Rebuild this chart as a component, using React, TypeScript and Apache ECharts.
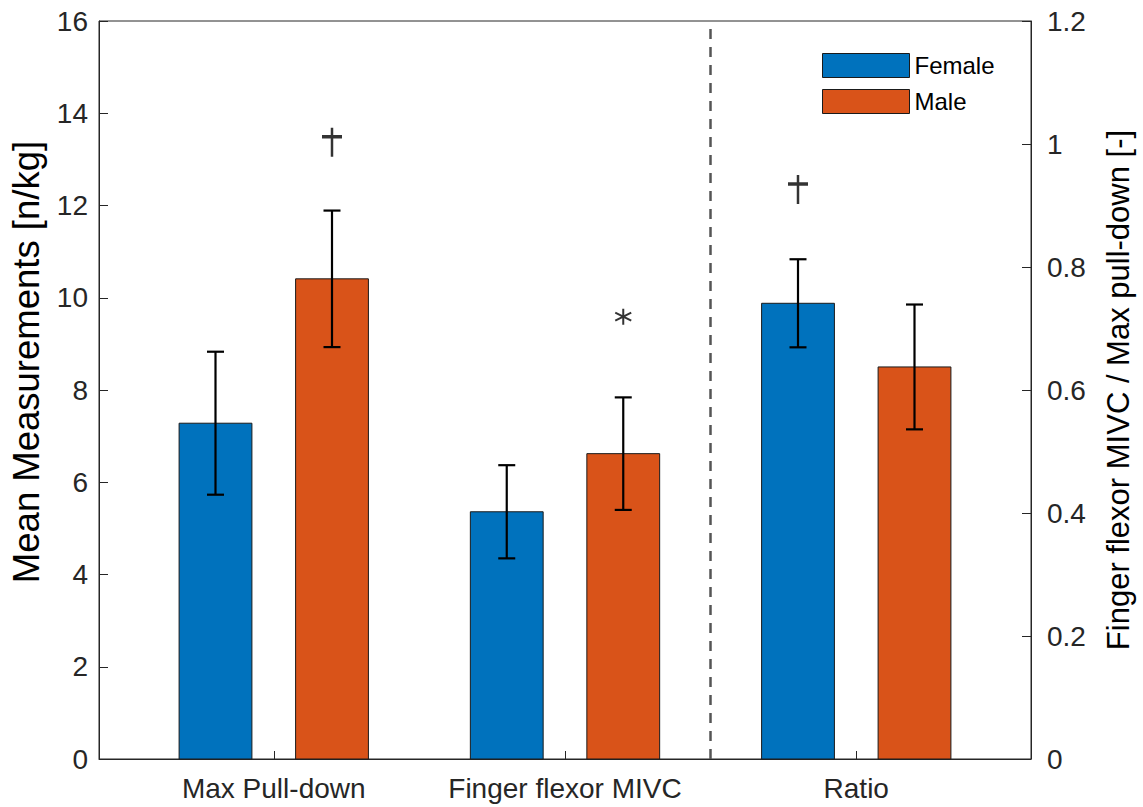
import React, { useEffect, useRef } from "react";
import * as echarts from "echarts";

const categories = ["Max Pull-down", "Finger flexor MIVC", "Ratio"];
// Left axis groups (n/kg)
const femaleMeans = [7.28, 5.36];
const femaleSD = [1.55, 1.01];
const maleMeans = [10.41, 6.62];
const maleSD = [1.48, 1.22];
// Right axis group (ratio)
const femaleRatioMean = [0.741];
const femaleRatioSD = [0.0716];
const maleRatioMean = [0.6375];
const maleRatioSD = [0.1015];
// Significance markers [x, y]
const daggerLeft = [[1.2, 13.37]];
const daggerRight = [[2.8, 0.926]];
const asteriskLeft = [[2.2, 9.59]];

const leftTicks = { min: 0, max: 16, interval: 2 };
const rightTicks = { min: 0, max: 1.2, interval: 0.2 };

const BLUE = "#0072BD";
const ORANGE = "#D95319";
const AXIS = "#262626";
const FONT = "'Liberation Sans', Arial, Helvetica, sans-serif";
const BAR_W = 0.25;
const OFFSET = 0.2;

function makeRender(color: string) {
  return (params: any, api: any) => {
    const x = api.value(0);
    const m = api.value(1);
    const sd = api.value(2);
    const base = api.coord([x, 0]);
    const top = api.coord([x, m]);
    const hi = api.coord([x, m + sd]);
    const lo = api.coord([x, m - sd]);
    const w = api.size([BAR_W, 0])[0];
    const cap = 17;
    const ls = { stroke: "#000", lineWidth: 2.2 };
    return {
      type: "group",
      children: [
        {
          type: "rect",
          shape: { x: top[0] - w / 2, y: top[1], width: w, height: base[1] - top[1] },
          style: { fill: color, stroke: "#1a1a1a", lineWidth: 1 },
        },
        { type: "line", shape: { x1: top[0], y1: hi[1], x2: top[0], y2: lo[1] }, style: ls },
        { type: "line", shape: { x1: top[0] - cap / 2, y1: hi[1], x2: top[0] + cap / 2, y2: hi[1] }, style: ls },
        { type: "line", shape: { x1: top[0] - cap / 2, y1: lo[1], x2: top[0] + cap / 2, y2: lo[1] }, style: ls },
      ],
    };
  };
}

const DAGGER = "path://M10,0L10,29M0,9L20,9";
const ASTER = "path://M8,0L8,16M1.07,4L14.93,12M1.07,12L14.93,4";

export default function App() {
  const ref = useRef<HTMLDivElement>(null);
  useEffect(() => {
    if (!ref.current) return;
    const chart = echarts.init(ref.current, null, { renderer: "svg" });
    const fData = femaleMeans.map((m, i) => [i + 1 - OFFSET, m, femaleSD[i]]);
    const mData = maleMeans.map((m, i) => [i + 1 + OFFSET, m, maleSD[i]]);
    const frData = femaleRatioMean.map((m, i) => [3 - OFFSET, m, femaleRatioSD[i]]);
    const mrData = maleRatioMean.map((m, i) => [3 + OFFSET, m, maleRatioSD[i]]);
    const markerStyle = { color: "transparent", borderColor: "#000", borderWidth: 3 };
    chart.setOption({
      animation: false,
      backgroundColor: "#fff",
      textStyle: { fontFamily: FONT },
      grid: {
        left: 97,
        top: 21,
        right: 112,
        bottom: 48,
        show: true,
        borderColor: AXIS,
        borderWidth: 1,
        backgroundColor: "#fff",
      },
      legend: {
        data: ["Female", "Male"],
        orient: "vertical",
        left: 822,
        top: 53,
        itemWidth: 87,
        itemHeight: 24,
        itemGap: 11,
        padding: 0,
        icon: "rect",
        textStyle: { fontSize: 24, color: "#000", fontFamily: FONT },
        itemStyle: { borderColor: "#1a1a1a", borderWidth: 1 },
      },
      xAxis: {
        type: "value",
        min: 0.4,
        max: 3.6,
        splitLine: { show: false },
        axisLine: { show: true, lineStyle: { color: AXIS, width: 1 } },
        axisTick: {
          show: true,
          inside: true,
          length: 8,
          customValues: [1, 2, 3],
          lineStyle: { color: AXIS },
        },
        axisLabel: {
          customValues: [1, 2, 3],
          formatter: (v: number) => categories[Math.round(v) - 1] ?? "",
          fontSize: 28,
          color: AXIS,
          margin: 15,
          fontFamily: FONT,
        },
      },
      yAxis: [
        {
          type: "value",
          ...leftTicks,
          position: "left",
          name: "Mean Measurements [n/kg]",
          nameLocation: "middle",
          nameGap: 54,
          nameTextStyle: { fontSize: 36.5, color: "#000", fontFamily: FONT, padding: [0, 0, 0, 56] },
          splitLine: { show: false },
          axisLine: { show: true, lineStyle: { color: AXIS } },
          axisTick: { show: true, inside: true, length: 9, lineStyle: { color: AXIS } },
          axisLabel: { fontSize: 28, color: AXIS, margin: 11, fontFamily: FONT },
        },
        {
          type: "value",
          ...rightTicks,
          position: "right",
          name: "Finger flexor MIVC / Max pull-down [-]",
          nameLocation: "middle",
          nameGap: 72,
          nameTextStyle: { fontSize: 31, color: "#000", fontFamily: FONT },
          splitLine: { show: false },
          axisLine: { show: true, lineStyle: { color: AXIS } },
          axisTick: { show: true, inside: true, length: 9, lineStyle: { color: AXIS } },
          axisLabel: { fontSize: 28, color: AXIS, margin: 16, fontFamily: FONT },
        },
      ],
      series: [
        {
          name: "Female",
          type: "custom",
          yAxisIndex: 0,
          data: fData,
          renderItem: makeRender(BLUE),
          itemStyle: { color: BLUE },
          encode: { x: 0, y: 1 },
          markLine: {
            silent: true,
            symbol: "none",
            label: { show: false },
            lineStyle: { color: "#555", type: [10, 8], width: 2.5 },
            data: [{ xAxis: 2.5 }],
          },
        },
        {
          name: "Male",
          type: "custom",
          yAxisIndex: 0,
          data: mData,
          renderItem: makeRender(ORANGE),
          itemStyle: { color: ORANGE },
          encode: { x: 0, y: 1 },
        },
        {
          name: "Female",
          type: "custom",
          yAxisIndex: 1,
          data: frData,
          renderItem: makeRender(BLUE),
          itemStyle: { color: BLUE },
          encode: { x: 0, y: 1 },
        },
        {
          name: "Male",
          type: "custom",
          yAxisIndex: 1,
          data: mrData,
          renderItem: makeRender(ORANGE),
          itemStyle: { color: ORANGE },
          encode: { x: 0, y: 1 },
        },
        {
          type: "scatter",
          yAxisIndex: 0,
          data: daggerLeft,
          symbol: DAGGER,
          symbolSize: [20, 29],
          itemStyle: markerStyle,
          silent: true,
        },
        {
          type: "scatter",
          yAxisIndex: 1,
          data: daggerRight,
          symbol: DAGGER,
          symbolSize: [20, 29],
          itemStyle: markerStyle,
          silent: true,
        },
        {
          type: "scatter",
          yAxisIndex: 0,
          data: asteriskLeft,
          symbol: ASTER,
          symbolSize: [16, 16],
          itemStyle: { color: "transparent", borderColor: "#000", borderWidth: 2 },
          silent: true,
        },
      ],
    });
    return () => chart.dispose();
  }, []);
  return (
    <div
      ref={ref}
      style={{ position: "absolute", left: 0, top: 0, width: 1143, height: 807, background: "#fff" }}
    />
  );
}
